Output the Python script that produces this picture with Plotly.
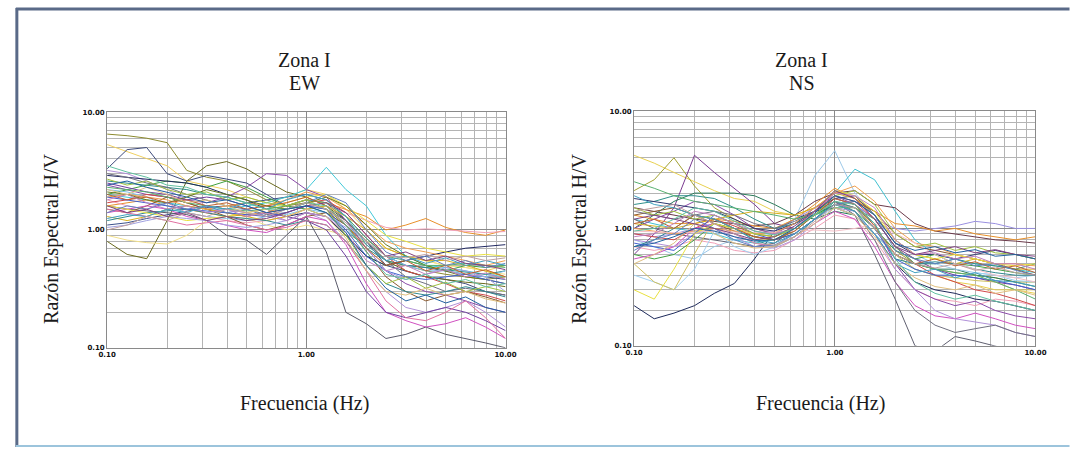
import plotly.graph_objects as go

freq = [0.10, 0.126, 0.158, 0.20, 0.251, 0.316, 0.398, 0.501, 0.631, 0.794, 1.00,
        1.26, 1.58, 2.00, 2.51, 3.16, 3.98, 5.01, 6.31, 7.94, 10.0]

ew_curves = [
    [6.5, 6.3, 6.0, 5.5, 3.2, 2.8, 2.6, 2.2, 1.8, 1.6, 1.7, 1.5, 1.1, 0.75, 0.55, 0.5, 0.45, 0.42, 0.4, 0.38, 0.4],
    [5.3, 4.6, 4.0, 3.5, 2.6, 2.4, 2.2, 1.9, 1.7, 1.9, 2.2, 2.0, 1.5, 1.0, 0.7, 0.6, 0.55, 0.5, 0.48, 0.45, 0.5],
    [3.3, 4.8, 5.0, 3.0, 2.6, 2.9, 2.7, 2.5, 2.0, 1.6, 1.8, 1.7, 1.2, 0.8, 0.5, 0.45, 0.4, 0.38, 0.35, 0.3, 0.28],
    [0.8, 0.62, 0.57, 1.2, 2.6, 3.5, 3.8, 3.3, 2.6, 2.1, 1.9, 1.6, 1.2, 0.8, 0.55, 0.45, 0.4, 0.38, 0.36, 0.35, 0.33],
    [0.9, 0.82, 0.78, 0.76, 0.9, 1.2, 1.3, 1.25, 1.1, 1.0, 1.1, 1.0, 0.9, 0.8, 0.7, 0.6, 0.55, 0.5, 0.48, 0.45, 0.42],
    [1.1, 1.15, 1.25, 1.35, 1.45, 1.55, 1.6, 1.7, 1.8, 1.9, 2.0, 1.8, 1.3, 0.85, 0.6, 0.5, 0.48, 0.45, 0.42, 0.4, 0.38],
    [1.6, 1.5, 1.45, 1.4, 1.35, 1.2, 0.9, 0.82, 0.62, 0.9, 1.3, 0.65, 0.2, 0.16, 0.12, 0.13, 0.15, 0.13, 0.12, 0.11, 0.1],
    [2.0, 1.9, 1.8, 1.7, 1.6, 1.5, 1.5, 1.6, 1.7, 1.9, 2.2, 3.4, 2.2, 1.6, 0.9, 0.6, 0.5, 0.48, 0.45, 0.42, 0.4],
    [2.4, 2.2, 2.0, 1.9, 1.8, 1.7, 1.9, 2.3, 3.0, 2.9, 2.2, 1.9, 1.2, 0.7, 0.45, 0.35, 0.3, 0.28, 0.25, 0.22, 0.2],
    [1.6, 1.7, 1.8, 1.6, 1.5, 1.4, 1.3, 1.35, 1.4, 1.6, 1.8, 1.7, 1.5, 1.3, 1.0, 1.1, 1.25, 1.05, 0.95, 0.9, 1.0],
    [1.8, 1.6, 1.5, 1.7, 1.4, 1.3, 1.2, 1.15, 1.2, 1.3, 1.5, 1.6, 1.4, 1.2, 1.05, 1.0, 1.02, 1.0, 0.98, 0.95, 0.97],
    [2.6, 2.5, 2.4, 2.3, 2.2, 2.0, 1.9, 1.7, 1.6, 1.5, 1.6, 1.4, 1.0, 0.7, 0.55, 0.5, 0.48, 0.46, 0.44, 0.42, 0.45],
    [2.0, 2.2, 2.4, 2.6, 2.5, 2.3, 2.6, 2.3, 1.9, 1.6, 1.5, 1.3, 0.9, 0.6, 0.5, 0.55, 0.5, 0.45, 0.5, 0.48, 0.5],
    [1.7, 1.8, 2.0, 1.9, 1.7, 1.5, 1.4, 1.3, 1.4, 1.5, 1.7, 1.8, 1.4, 0.9, 0.6, 0.45, 0.4, 0.35, 0.3, 0.28, 0.25],
    [3.2, 3.0, 2.6, 2.2, 1.8, 1.6, 1.5, 1.4, 1.3, 1.2, 1.4, 1.2, 0.8, 0.45, 0.3, 0.22, 0.2, 0.22, 0.25, 0.2, 0.15],
    [2.2, 2.1, 1.9, 1.6, 1.4, 1.3, 1.25, 1.2, 1.3, 1.35, 1.5, 1.4, 1.1, 0.8, 0.6, 0.5, 0.45, 0.45, 0.42, 0.4, 0.45],
    [1.5, 1.4, 1.6, 1.9, 1.7, 1.5, 1.3, 1.1, 1.0, 1.1, 1.3, 1.4, 1.1, 0.65, 0.4, 0.3, 0.25, 0.28, 0.3, 0.27, 0.24],
    [2.9, 2.8, 2.7, 2.6, 2.5, 2.3, 2.0, 1.8, 1.5, 1.3, 1.4, 1.3, 0.9, 0.6, 0.5, 0.55, 0.6, 0.65, 0.7, 0.72, 0.75],
    [1.3, 1.2, 1.3, 1.5, 1.6, 1.5, 1.4, 1.3, 1.2, 1.3, 1.5, 1.6, 1.3, 1.0, 0.7, 0.6, 0.55, 0.55, 0.5, 0.45, 0.4],
    [1.4, 1.5, 1.6, 1.5, 1.3, 1.2, 1.1, 1.0, 0.95, 1.1, 1.3, 1.2, 0.75, 0.35, 0.2, 0.17, 0.15, 0.16, 0.18, 0.15, 0.12],
    [2.5, 2.3, 2.1, 2.0, 1.8, 1.9, 1.8, 1.6, 1.4, 1.3, 1.2, 1.0, 0.6, 0.3, 0.2, 0.18, 0.2, 0.22, 0.2, 0.17, 0.14],
    [3.0, 2.8, 2.5, 2.3, 2.0, 1.8, 1.6, 1.5, 1.35, 1.4, 1.6, 1.5, 1.2, 0.8, 0.55, 0.4, 0.35, 0.3, 0.32, 0.3, 0.28],
    [1.9, 2.0, 1.9, 1.8, 1.6, 1.5, 1.6, 1.7, 1.6, 1.8, 2.1, 1.9, 1.5, 1.1, 0.8, 0.7, 0.65, 0.6, 0.55, 0.5, 0.55],
    [1.2, 1.3, 1.4, 1.45, 1.5, 1.4, 1.3, 1.25, 1.2, 1.1, 1.2, 1.1, 0.8, 0.5, 0.35, 0.3, 0.28, 0.3, 0.33, 0.3, 0.27],
    [1.6, 1.5, 1.4, 1.3, 1.2, 1.25, 1.3, 1.4, 1.5, 1.7, 1.9, 2.0, 1.6, 1.2, 0.9, 0.8, 0.7, 0.65, 0.6, 0.62, 0.6],
    [2.1, 2.0, 1.8, 1.7, 1.9, 2.2, 2.0, 1.8, 1.6, 1.5, 1.7, 1.9, 1.6, 1.1, 0.75, 0.6, 0.5, 0.45, 0.4, 0.38, 0.35],
    [1.5, 1.4, 1.3, 1.2, 1.1, 1.15, 1.2, 1.1, 1.0, 1.05, 1.2, 1.1, 0.8, 0.45, 0.25, 0.18, 0.17, 0.2, 0.25, 0.18, 0.12],
    [1.9, 1.8, 1.7, 1.6, 1.5, 1.45, 1.4, 1.35, 1.3, 1.4, 1.6, 1.5, 1.0, 0.6, 0.45, 0.4, 0.38, 0.4, 0.42, 0.38, 0.35],
    [2.3, 2.2, 2.1, 1.9, 1.7, 1.6, 1.5, 1.45, 1.5, 1.6, 1.8, 1.7, 1.3, 0.85, 0.6, 0.55, 0.5, 0.5, 0.52, 0.5, 0.48],
    [1.05, 1.1, 1.2, 1.3, 1.25, 1.2, 1.1, 1.05, 1.1, 1.2, 1.4, 1.3, 1.05, 0.7, 0.45, 0.38, 0.42, 0.48, 0.45, 0.4, 0.3],
    [2.0, 1.8, 1.9, 1.7, 1.8, 1.6, 1.7, 1.5, 1.6, 1.7, 1.9, 1.6, 1.1, 0.7, 0.5, 0.55, 0.45, 0.5, 0.42, 0.46, 0.4],
    [1.4, 1.6, 1.5, 1.7, 1.5, 1.6, 1.4, 1.5, 1.3, 1.5, 1.7, 2.0, 1.7, 1.0, 0.65, 0.55, 0.6, 0.5, 0.55, 0.48, 0.52],
    [2.7, 2.4, 2.6, 2.2, 2.0, 2.1, 1.8, 1.9, 1.7, 1.6, 1.8, 1.5, 0.9, 0.5, 0.35, 0.4, 0.32, 0.36, 0.3, 0.33, 0.3],
    [1.8, 2.0, 1.7, 1.5, 1.6, 1.4, 1.5, 1.3, 1.4, 1.2, 1.4, 1.3, 0.95, 0.55, 0.45, 0.5, 0.42, 0.46, 0.4, 0.43, 0.38],
    [1.25, 1.35, 1.3, 1.5, 1.4, 1.6, 1.5, 1.7, 1.5, 1.8, 2.0, 1.8, 1.3, 0.75, 0.55, 0.6, 0.52, 0.58, 0.5, 0.55, 0.5],
    [2.2, 2.0, 2.3, 2.0, 1.7, 1.8, 1.6, 1.4, 1.5, 1.3, 1.5, 1.3, 0.85, 0.45, 0.3, 0.28, 0.32, 0.28, 0.3, 0.26, 0.24],
    [1.6, 1.4, 1.5, 1.3, 1.4, 1.2, 1.3, 1.2, 1.25, 1.4, 1.6, 1.7, 1.4, 0.9, 0.6, 0.65, 0.55, 0.6, 0.52, 0.5, 0.46],
    [3.5, 3.1, 2.8, 2.4, 2.3, 2.0, 1.9, 1.7, 1.5, 1.5, 1.7, 1.6, 1.1, 0.65, 0.42, 0.38, 0.42, 0.35, 0.38, 0.33, 0.35],
    [1.0, 1.1, 1.3, 1.2, 1.4, 1.3, 1.5, 1.4, 1.3, 1.5, 1.7, 1.5, 1.15, 0.8, 0.6, 0.58, 0.62, 0.55, 0.6, 0.55, 0.58],
    [2.4, 2.6, 2.3, 2.1, 1.9, 1.7, 1.8, 1.6, 1.4, 1.5, 1.6, 1.4, 0.95, 0.5, 0.32, 0.25, 0.28, 0.24, 0.27, 0.22, 0.2],
]

ns_curves = [
    [4.2, 3.6, 3.0, 2.5, 2.1, 1.8, 1.7, 1.4, 1.3, 1.5, 1.8, 1.6, 1.0, 0.6, 0.45, 0.4, 0.35, 0.33, 0.3, 0.3, 0.28],
    [2.1, 2.6, 4.0, 2.3, 1.5, 1.2, 1.0, 0.9, 1.0, 1.3, 1.7, 1.5, 1.0, 0.65, 0.5, 0.45, 0.42, 0.4, 0.38, 0.35, 0.35],
    [0.6, 0.9, 1.5, 4.2, 3.0, 2.2, 1.6, 1.1, 1.0, 1.3, 1.8, 1.6, 1.2, 0.7, 0.55, 0.45, 0.4, 0.38, 0.35, 0.33, 0.3],
    [0.22, 0.17, 0.19, 0.22, 0.28, 0.34, 0.55, 0.95, 1.2, 1.4, 1.5, 1.3, 0.9, 0.5, 0.35, 0.3, 0.28, 0.25, 0.24, 0.22, 0.2],
    [1.0, 1.3, 1.7, 2.0, 2.0, 2.0, 1.9, 1.6, 1.3, 1.2, 1.4, 1.3, 0.9, 0.6, 0.5, 0.45, 0.45, 0.4, 0.38, 0.35, 0.32],
    [0.8, 0.7, 0.6, 0.55, 0.7, 0.8, 0.85, 0.9, 1.2, 2.8, 4.6, 2.0, 1.3, 0.8, 0.6, 0.5, 0.45, 0.42, 0.4, 0.38, 0.4],
    [1.2, 1.1, 1.0, 0.95, 0.9, 0.8, 0.75, 0.8, 1.0, 1.4, 2.0, 3.2, 2.6, 1.4, 0.8, 0.6, 0.55, 0.5, 0.48, 0.45, 0.42],
    [1.5, 1.4, 1.3, 1.2, 1.15, 1.1, 1.05, 1.1, 1.3, 1.7, 2.0, 2.1, 1.6, 1.5, 1.1, 0.95, 0.9, 0.85, 0.8, 0.78, 0.75],
    [0.9, 0.85, 0.9, 1.0, 1.1, 1.0, 0.9, 0.95, 1.2, 1.5, 1.8, 1.6, 1.2, 1.0, 0.95, 1.0, 1.05, 1.15, 1.1, 1.0, 1.0],
    [1.3, 1.2, 1.1, 1.1, 1.2, 1.15, 1.05, 1.0, 1.2, 1.6, 2.2, 1.8, 1.4, 1.1, 1.05, 0.95, 1.0, 0.9, 0.85, 0.8, 0.85],
    [1.2, 1.0, 0.9, 0.85, 0.8, 0.75, 0.7, 0.75, 1.0, 1.3, 1.7, 1.3, 0.6, 0.25, 0.1, 0.09, 0.12, 0.11, 0.1, 0.09, 0.09],
    [0.7, 0.65, 0.7, 0.8, 0.75, 0.65, 0.62, 0.65, 0.8, 1.0, 1.3, 1.2, 0.8, 0.45, 0.3, 0.25, 0.24, 0.22, 0.25, 0.24, 0.22],
    [1.6, 1.7, 1.9, 1.9, 1.8, 1.5, 1.2, 1.0, 1.1, 1.3, 1.6, 1.5, 1.0, 0.6, 0.5, 0.5, 0.55, 0.5, 0.48, 0.45, 0.5],
    [0.4, 0.35, 0.3, 0.45, 0.95, 0.7, 0.6, 0.7, 0.9, 1.2, 1.5, 1.3, 0.9, 0.6, 0.45, 0.4, 0.38, 0.42, 0.4, 0.36, 0.35],
    [0.5, 0.35, 0.3, 0.6, 1.2, 1.0, 0.8, 0.8, 1.0, 1.3, 1.7, 1.5, 1.0, 0.6, 0.45, 0.4, 0.38, 0.36, 0.35, 0.3, 0.3],
    [0.9, 0.85, 0.8, 1.0, 1.2, 1.05, 0.9, 0.85, 1.0, 1.4, 1.9, 1.7, 1.2, 0.7, 0.5, 0.4, 0.35, 0.3, 0.28, 0.25, 0.22],
    [1.0, 1.2, 1.4, 1.7, 1.6, 1.3, 1.0, 0.9, 1.1, 1.5, 1.9, 1.6, 1.1, 0.5, 0.3, 0.25, 0.22, 0.24, 0.2, 0.18, 0.17],
    [1.8, 1.7, 1.6, 1.5, 1.4, 1.2, 1.0, 0.95, 1.1, 1.4, 1.8, 1.9, 1.3, 0.75, 0.6, 0.6, 0.55, 0.6, 0.65, 0.6, 0.55],
    [0.6, 0.55, 0.6, 0.8, 1.1, 1.0, 0.85, 0.8, 0.95, 1.3, 1.6, 1.4, 1.0, 0.65, 0.55, 0.6, 0.5, 0.48, 0.45, 0.42, 0.4],
    [1.1, 1.05, 1.0, 1.1, 1.2, 1.3, 1.4, 1.35, 1.3, 1.5, 2.0, 1.8, 1.3, 0.8, 0.6, 0.55, 0.5, 0.55, 0.5, 0.45, 0.45],
    [0.55, 0.6, 0.7, 1.0, 1.1, 0.9, 0.75, 0.7, 0.85, 1.1, 1.4, 1.2, 0.7, 0.35, 0.22, 0.18, 0.17, 0.19, 0.17, 0.15, 0.14],
    [0.8, 0.75, 0.7, 0.9, 1.0, 0.85, 0.7, 0.68, 0.8, 1.1, 1.5, 1.4, 0.9, 0.45, 0.3, 0.2, 0.17, 0.16, 0.15, 0.13, 0.12],
    [1.3, 1.4, 1.5, 1.3, 1.1, 0.95, 0.85, 0.8, 0.9, 1.2, 1.6, 1.7, 1.4, 0.9, 0.7, 0.65, 0.6, 0.55, 0.5, 0.45, 0.4],
    [0.7, 0.8, 1.0, 1.3, 1.2, 1.0, 0.8, 0.7, 0.85, 1.2, 1.7, 1.5, 1.1, 0.55, 0.5, 0.52, 0.5, 0.45, 0.42, 0.4, 0.4],
    [1.0, 0.95, 0.9, 0.95, 1.0, 0.95, 0.9, 0.92, 1.1, 1.5, 2.0, 2.3, 1.7, 1.0, 0.75, 0.7, 0.6, 0.55, 0.5, 0.5, 0.48],
    [1.4, 1.3, 1.2, 1.3, 1.4, 1.3, 1.1, 1.0, 1.15, 1.4, 1.7, 1.4, 0.8, 0.35, 0.2, 0.15, 0.13, 0.14, 0.15, 0.13, 0.12],
    [0.95, 0.93, 0.92, 0.93, 0.95, 0.93, 0.92, 0.93, 0.95, 0.97, 0.95, 1.0, 1.1, 0.9, 0.75, 0.6, 0.5, 0.45, 0.4, 0.38, 0.35],
    [0.75, 0.7, 0.65, 0.9, 1.3, 1.1, 0.9, 0.8, 0.9, 1.2, 1.6, 1.5, 1.0, 0.55, 0.45, 0.4, 0.4, 0.38, 0.36, 0.33, 0.3],
    [0.3, 0.25, 0.45, 0.9, 1.1, 1.0, 0.9, 0.85, 1.0, 1.4, 2.1, 1.9, 1.4, 0.8, 0.6, 0.55, 0.6, 0.55, 0.5, 0.48, 0.5],
    [2.5, 2.2, 1.9, 1.7, 1.6, 1.5, 1.4, 1.3, 1.2, 1.3, 1.5, 1.5, 1.2, 0.7, 0.5, 0.45, 0.42, 0.4, 0.35, 0.3, 0.25],
    [1.1, 1.2, 1.0, 1.3, 1.2, 1.0, 0.85, 0.8, 0.95, 1.3, 1.8, 1.6, 1.05, 0.6, 0.5, 0.55, 0.48, 0.52, 0.45, 0.48, 0.42],
    [0.65, 0.8, 0.9, 1.2, 1.0, 0.8, 0.7, 0.72, 0.9, 1.2, 1.6, 1.7, 1.3, 0.65, 0.55, 0.5, 0.55, 0.48, 0.5, 0.44, 0.4],
    [1.5, 1.3, 1.4, 1.2, 1.3, 1.1, 0.9, 0.85, 1.0, 1.3, 1.9, 2.1, 1.6, 0.9, 0.7, 0.75, 0.65, 0.7, 0.62, 0.6, 0.55],
    [0.85, 0.9, 1.1, 1.4, 1.3, 1.1, 0.95, 0.9, 1.0, 1.4, 2.0, 1.9, 1.5, 0.8, 0.6, 0.62, 0.55, 0.58, 0.5, 0.5, 0.45],
    [1.9, 1.6, 1.5, 1.3, 1.2, 1.0, 0.8, 0.75, 0.9, 1.2, 1.6, 1.4, 0.9, 0.5, 0.42, 0.45, 0.38, 0.42, 0.36, 0.35, 0.32],
    [0.5, 0.6, 0.75, 1.1, 0.9, 0.75, 0.68, 0.7, 0.85, 1.1, 1.5, 1.3, 0.85, 0.5, 0.38, 0.32, 0.3, 0.33, 0.28, 0.3, 0.27],
    [1.2, 1.3, 1.2, 1.1, 1.0, 0.9, 0.8, 0.85, 1.05, 1.4, 2.1, 1.8, 1.2, 0.7, 0.6, 0.65, 0.7, 0.62, 0.66, 0.6, 0.58],
    [0.95, 1.0, 1.2, 1.5, 1.4, 1.15, 0.95, 0.88, 1.0, 1.3, 1.7, 1.6, 1.1, 0.55, 0.35, 0.28, 0.25, 0.27, 0.24, 0.22, 0.2],
    [1.4, 1.5, 1.6, 1.3, 1.1, 0.9, 0.75, 0.72, 0.85, 1.15, 1.6, 1.5, 1.0, 0.6, 0.5, 0.46, 0.5, 0.44, 0.47, 0.42, 0.4],
    [0.7, 0.75, 0.85, 1.0, 0.95, 0.85, 0.78, 0.8, 1.0, 1.35, 1.9, 1.7, 1.3, 0.75, 0.65, 0.7, 0.62, 0.66, 0.58, 0.6, 0.55],
]

extra_colors = ["#c06030", "#6080c0", "#a0c040", "#c080c0", "#40a0c0",
                "#e0c080", "#804080", "#60c0a0", "#c0a0a0", "#2060a0"]

ew_colors = ["#8c8a2e", "#f0d060", "#3d4a7a", "#6b6b20", "#f2e08a", "#3a4f8a", "#5a5a6a",
             "#40c8d8", "#8a4aa8", "#e8902a", "#f0a0b8", "#2f8f8a", "#40a040", "#d04848",
             "#b090d8", "#80c0e8", "#8a5a30", "#202860", "#d8b020", "#d050c0", "#7040a0",
             "#707080", "#f0a050", "#308890", "#e8e040", "#6a7a20", "#e070a0", "#4060d0",
             "#58b070", "#a0a0e0"] + extra_colors

ns_colors = ["#e8d050", "#a0a030", "#7a3a90", "#1e2a5a", "#2a7a5a", "#9cc8e8", "#40c0d0",
             "#6a3a4a", "#9a90e0", "#e8902a", "#606070", "#f0a0b8", "#2f8f8a", "#a0d0f0",
             "#d0c060", "#d04848", "#8a4aa8", "#303870", "#40a040", "#d8b020", "#d050c0",
             "#b090d8", "#8a5a30", "#308890", "#f0a050", "#707080", "#f4c0c8", "#4060d0",
             "#e8e040", "#58b070"] + extra_colors

tick_vals = [0.1, 1, 10]
tick_text = ["0.10", "1.00", "10.00"]
minor_vals = [m * d for d in (0.1, 1) for m in range(2, 10)]

fig = go.Figure()
for c, col in zip(ew_curves, ew_colors):
    fig.add_trace(go.Scatter(x=freq, y=c, mode="lines", xaxis="x", yaxis="y",
                             line=dict(color=col, width=1)))
for c, col in zip(ns_curves, ns_colors):
    fig.add_trace(go.Scatter(x=freq, y=c, mode="lines", xaxis="x2", yaxis="y2",
                             line=dict(color=col, width=1)))

W, H = 1070, 452
def px(x): return x / W
def py(y): return 1 - y / H

axis_common = dict(type="log", range=[-1, 1], tickvals=tick_vals, ticktext=tick_text,
                   showgrid=True, gridcolor="#8a8a8a", gridwidth=1,
                   minor=dict(tickvals=minor_vals, showgrid=True, gridcolor="#b4b4b4", gridwidth=1),
                   showline=True, linecolor="#8a8a8a", linewidth=1, mirror=True,
                   ticks="", zeroline=False,
                   tickfont=dict(family="DejaVu Sans", size=7, color="#111", weight="bold"))

fig.update_layout(
    width=W, height=H, margin=dict(l=0, r=0, t=0, b=0),
    paper_bgcolor="white", plot_bgcolor="white", showlegend=False,
    xaxis=dict(axis_common, domain=[px(100), px(506)], anchor="y"),
    yaxis=dict(axis_common, domain=[py(350), py(110)], anchor="x"),
    xaxis2=dict(axis_common, domain=[px(637), px(1046)], anchor="y2"),
    yaxis2=dict(axis_common, domain=[py(348), py(109)], anchor="x2"),
)

serif = "Liberation Serif, Times New Roman, DejaVu Serif, serif"
ann = []
def text(x, y, t, angle=0, size=20):
    ann.append(dict(x=px(x), y=py(y), xref="paper", yref="paper", text=t, showarrow=False,
                    textangle=angle, font=dict(family=serif, size=size, color="#1a1a1a"),
                    xanchor="center", yanchor="middle"))
text(301, 57, "Zona I")
text(301, 80, "EW")
text(808, 57, "Zona I")
text(808, 80, "NS")
text(44, 239, "Razón Espectral H/V", angle=-90)
text(582, 239, "Razón Espectral H/V", angle=-90)
text(301, 407, "Frecuencia (Hz)")
text(827, 407, "Frecuencia (Hz)")
fig.update_layout(annotations=ann)

shapes = [
    dict(type="line", xref="paper", yref="paper", x0=px(7), x1=1.01, y0=py(5), y1=py(5),
         line=dict(color="#5a6a88", width=3)),
    dict(type="line", xref="paper", yref="paper", x0=px(8), x1=px(8), y0=py(4), y1=py(451),
         line=dict(color="#5a6a88", width=3)),
    dict(type="line", xref="paper", yref="paper", x0=px(7), x1=1.01, y0=py(450), y1=py(450),
         line=dict(color="#9cc4dc", width=2)),
]
fig.update_layout(shapes=shapes)

fig.write_html("out.html", config={"displayModeBar": False},
               post_script="document.body.style.margin='0';document.body.style.overflow='hidden';")
